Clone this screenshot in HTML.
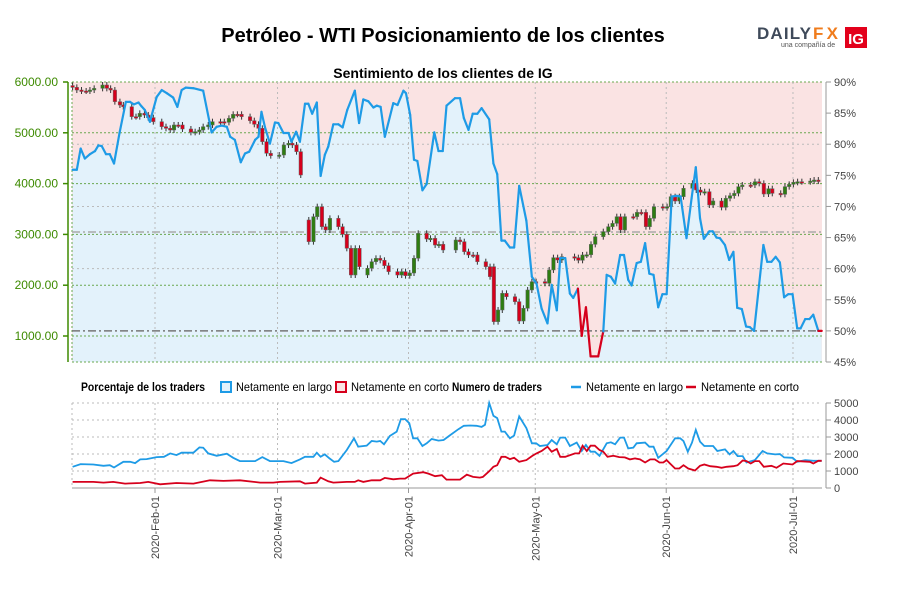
<!DOCTYPE html>
<html><head><meta charset="utf-8"><style>
body{margin:0;background:#fff;font-family:"Liberation Sans",sans-serif}
svg{display:block}
</style></head><body>
<svg id="c" width="900" height="600" xmlns="http://www.w3.org/2000/svg">
<text x="443" y="42" text-anchor="middle" font-size="20" font-weight="bold" fill="#000">Petróleo - WTI Posicionamiento de los clientes</text>
<g>
<text x="757" y="39" font-size="17" font-weight="bold" fill="#3f4a5a" textLength="54" lengthAdjust="spacing">DAILY</text>
<text x="813" y="39" font-size="17" font-weight="bold" fill="#f07c1c" textLength="25" lengthAdjust="spacing">FX</text>
<text x="781" y="47" font-size="7" fill="#555">una compañía de</text>
<rect x="845" y="27" width="22" height="21" fill="#e3001b"/>
<text x="856" y="44" text-anchor="middle" font-size="15" font-weight="bold" fill="#fff">IG</text>
</g>
<text x="443" y="78" text-anchor="middle" font-size="14" font-weight="bold" fill="#000">Sentimiento de los clientes de IG</text>
<g id="main"></g>
<g id="low"></g>
<g id="legend" font-size="12">
<text x="81" y="391" font-weight="bold" textLength="124" lengthAdjust="spacingAndGlyphs">Porcentaje de los traders</text>
<rect x="221" y="382" width="10" height="10" fill="#e3f2fb" stroke="#1e9be6" stroke-width="2"/>
<text x="236" y="391" textLength="96" lengthAdjust="spacingAndGlyphs">Netamente en largo</text>
<rect x="336" y="382" width="10" height="10" fill="#fae3e3" stroke="#d6001c" stroke-width="2"/>
<text x="351" y="391" textLength="98" lengthAdjust="spacingAndGlyphs">Netamente en corto</text>
<text x="452" y="391" font-weight="bold" textLength="90" lengthAdjust="spacingAndGlyphs">Numero de traders</text>
<line x1="571" y1="387" x2="581" y2="387" stroke="#1e9be6" stroke-width="2.5"/>
<text x="586" y="391" textLength="97" lengthAdjust="spacingAndGlyphs">Netamente en largo</text>
<line x1="686" y1="387" x2="696" y2="387" stroke="#d6001c" stroke-width="2.5"/>
<text x="701" y="391" textLength="98" lengthAdjust="spacingAndGlyphs">Netamente en corto</text>
</g>
</svg>
<script>
const sentDays=[0.5,1.5,2.4,3.4,4.6,5.8,6.6,7.4,8.4,9.3,10.3,11.6,13.1,14.1,15.0,16.1,16.8,17.6,18.8,20.4,21.6,22.8,24.3,25.3,26.3,27.3,29.1,31.4,33.4,34.6,35.8,37.0,37.8,38.9,40.3,41.3,42.3,43.7,44.5,45.2,46.0,47.2,48.4,49.2,50.4,51.6,52.3,53.4,54.3,55.5,56.3,57.2,58.3,59.2,60.2,61.0,62.2,63.4,64.4,65.5,67.3,68.3,69.3,70.5,71.7,72.5,73.4,74.4,76.4,77.4,78.8,79.4,80.4,81.3,82.1,83.3,84.3,86.1,87.1,88.1,89.0,91.0,92.2,93.1,94.2,95.2,96.3,97.3,99.1,100.1,101.0,102.0,102.8,104.0,105.0,106.2,107.9,109.2,110.3,111.5,112.9,113.9,115.1,115.9,117.1,118.2,119.0,120.1,121.0,122.0,123.1,124.9,126.1,126.9,127.9,128.9,130.1,131.0,132.0,132.8,134.0,135.0,136.0,137.0,138.0,139.1,140.1,141.1,142.3,143.5,144.4,145.8,147.0,148.0,149.0,149.9,151.2,152.0,152.9,153.7,154.9,155.9,156.9,157.8,158.9,159.9,160.8,161.8,164.0,164.9,165.9,166.9,167.9,168.9,169.9,170.9,172.0,172.8,173.9,174.9,175.8,177.0,177.8];
const sentLong=[75.9,75.9,79.3,77.7,78.4,78.9,79.8,79.7,78.4,78.4,76.9,81.8,86.8,86.8,86.4,86.7,86.1,85.5,83.6,87.6,88.7,88.2,87.5,86.0,88.7,89.1,89.0,88.6,81.9,82.8,83.0,82.8,81.2,80.7,77.1,78.5,78.8,80.7,81.2,85.2,82.8,80.1,83.5,83.4,81.8,81.8,80.4,82.0,80.4,86.5,86.5,84.9,86.7,74.9,78.3,79.6,83.2,83.2,82.7,85.5,88.6,83.4,87.2,86.9,85.9,86.2,86.0,81.2,86.6,86.3,88.6,88.2,84.7,77.5,77.3,72.6,73.6,81.9,78.9,78.9,86.2,87.4,87.4,84.2,82.3,84.9,84.9,85.8,84.0,76.9,75.2,64.5,64.5,63.4,63.4,73.3,67.7,58.7,57.6,53.6,51.2,57.4,53.3,61.7,61.7,56.0,55.3,56.8,49.2,53.8,45.9,45.9,49.9,59.0,58.7,57.6,62.2,62.2,58.2,57.3,60.9,61.1,64.1,59.2,59.0,53.8,55.9,55.9,71.6,71.7,71.6,64.9,71.3,76.3,68.1,64.8,66.0,66.0,65.0,64.9,63.8,61.4,62.7,53.7,53.5,50.7,50.6,50.0,63.8,61.1,61.1,61.9,61.0,55.4,55.9,55.9,50.4,50.4,51.9,51.9,52.6,50.0,50.0];
const candleDays=[0.5,1.5,2.6,3.7,4.6,5.6,7.6,8.6,9.5,10.5,11.7,12.5,14.5,15.5,16.4,17.5,18.4,19.6,21.6,22.6,23.6,24.5,25.5,26.5,28.5,29.5,30.5,31.4,32.6,33.6,35.5,36.4,37.5,38.5,39.5,40.5,42.5,43.5,44.5,45.4,46.4,47.4,49.4,50.5,51.6,52.5,53.5,54.5,56.4,57.5,58.4,59.5,60.4,61.4,63.4,64.4,65.4,66.4,67.4,68.4,70.3,71.3,72.3,73.3,74.3,75.3,77.4,78.4,79.3,80.3,81.3,82.3,84.3,85.2,86.3,87.2,88.2,91.2,92.2,93.2,94.2,95.3,96.3,98.3,99.3,100.2,101.2,102.2,103.2,105.2,106.2,107.2,108.2,109.2,110.2,112.3,113.3,114.3,115.3,116.3,119.3,120.2,121.2,122.2,123.2,124.2,126.1,127.3,128.3,129.3,130.2,131.2,133.2,134.1,135.1,136.2,137.1,138.1,140.2,141.2,142.1,143.1,144.1,145.1,147.2,148.1,149.1,150.1,151.2,152.1,154.1,155.1,156.1,157.1,158.1,159.0,161.0,162.0,163.0,164.1,165.2,166.1,168.1,169.1,170.1,171.1,172.1,173.1,175.1,176.0,177.0];
const candleClose=[5895,5842,5823,5823,5842,5875,5941,5875,5842,5613,5547,5514,5318,5318,5383,5350,5298,5219,5121,5088,5055,5154,5154,5075,5009,5022,5055,5121,5154,5219,5219,5206,5285,5364,5364,5318,5239,5167,5088,4826,4596,4550,4563,4760,4793,4760,4629,4169,2857,3349,3546,3152,3087,3316,3152,3001,2726,2201,2726,2365,2333,2463,2529,2490,2385,2267,2200,2267,2188,2240,2530,3021,2910,2923,2791,2805,2693,2890,2857,2660,2595,2595,2463,2365,2168,1282,1512,1840,1774,1676,1295,1545,1906,2070,2070,2037,2300,2542,2496,2562,2542,2490,2595,2600,2804,2955,3054,3152,3217,3349,3087,3350,3350,3434,3434,3152,3316,3546,3526,3546,3743,3657,3743,3907,4005,3874,3828,3841,3579,3658,3533,3710,3762,3808,3940,3972,3972,4038,4005,3795,3900,3808,3789,3940,3985,4025,4038,4038,4050,4070,4050];
const gapOpenDays=[0.5,56.4,70.3,100.2];
const gapOpens=[5930,3284,2201,2365];
const numLongDays=[0.5,2.4,5.4,7.8,9.3,10.3,12.5,14.1,15.3,16.5,18.0,20.4,22.1,23.6,25.1,26.3,29.1,30.5,31.4,32.6,34.6,37.0,38.5,40.1,43.7,45.4,47.2,50.4,52.3,54.3,55.5,57.5,58.3,59.2,60.2,61.3,62.4,63.4,65.4,67.1,68.1,70.1,71.3,72.5,73.3,74.2,75.6,77.2,78.2,79.2,80.2,81.1,82.1,83.3,84.3,85.5,87.1,88.3,89.7,91.8,93.1,94.6,96.1,97.3,98.1,99.1,100.1,101.0,102.0,102.8,104.0,105.0,106.2,107.9,109.2,110.2,111.1,112.9,113.9,115.1,115.9,117.1,118.2,119.8,121.0,122.0,123.1,124.1,125.2,126.9,127.9,128.9,130.1,131.0,132.0,133.2,134.0,136.0,137.0,138.0,139.1,140.1,141.1,143.1,144.3,145.1,146.1,147.1,148.0,149.0,150.0,152.1,153.1,154.9,156.0,156.9,157.9,159.1,160.0,162.0,163.8,164.9,166.8,167.9,168.9,170.9,172.0,173.9,175.8,177.8];
const numLong=[1245,1403,1383,1304,1344,1205,1541,1541,1462,1680,1700,1818,1838,2035,1937,2075,2075,2391,2371,2035,1897,2016,1778,1581,1581,1818,1581,1581,1462,1680,1838,1838,2075,1838,1976,1739,1541,1581,2233,2924,2430,2490,2766,2727,2766,2569,3063,3320,4051,4051,3814,2924,2924,2470,2628,2885,2786,2826,3083,3458,3656,3675,3656,3596,3715,4999,4248,4110,3320,3320,2924,3083,4209,3517,2628,2628,2470,2529,2826,2569,2964,2964,2470,2668,2174,2529,2134,2134,1897,2628,2687,2569,2964,2964,2332,2371,2628,2668,2430,2430,1778,1976,2174,2924,2924,2766,2134,2668,3419,2727,2470,2470,2174,2272,1976,2174,1877,1877,1502,1640,2174,2035,1976,1996,1798,1778,1541,1640,1600,1600];
const numShortDays=[0.5,5.4,7.8,10.1,12.9,16.5,18.4,21.2,25.1,29.1,33.0,36.2,40.1,44.9,48.0,49.6,54.3,55.5,58.3,59.2,61.0,62.2,65.4,67.3,68.1,69.3,71.3,73.3,74.4,76.4,78.0,79.2,81.1,83.5,84.7,86.3,87.9,89.0,92.2,93.8,95.3,96.9,97.6,99.1,100.1,101.0,102.0,102.9,104.0,105.0,106.2,107.9,109.2,110.3,111.5,112.9,113.9,115.1,115.9,117.1,119.4,120.4,121.2,122.2,123.1,124.1,125.2,126.1,127.1,128.5,129.9,131.2,132.4,133.6,134.8,136.0,137.2,138.3,139.4,140.3,141.1,141.9,143.1,144.1,145.1,146.2,147.8,149.0,150.0,151.4,152.9,154.1,155.3,156.9,157.9,159.1,160.0,161.0,162.0,163.0,164.1,165.9,167.1,168.7,170.9,172.0,175.0,175.8,177.0,177.8];
const numShort=[356,356,316,356,257,296,356,217,296,257,454,415,454,316,316,356,395,257,316,613,395,316,356,356,454,356,454,454,593,514,553,553,850,929,850,692,751,494,494,790,652,613,652,988,1245,1344,1838,1838,1700,1778,1541,1640,1877,2035,2174,2430,2134,2292,1838,1838,2035,2035,2490,2174,2490,2490,2233,2134,1838,1897,1818,1798,1680,1739,1680,1502,1680,1680,1502,1502,1640,1442,1146,1146,1344,1146,1028,1304,1383,1284,1245,1186,1245,1284,1344,1620,1581,1442,1581,1581,1245,1304,1186,1442,1383,1581,1541,1442,1600,1600];
const monthDays=[20,49,80,110,141,171];
const monthLabels=["2020-Feb-01","2020-Mar-01","2020-Apr-01","2020-May-01","2020-Jun-01","2020-Jul-01"];
const priceTicks=[6000,5000,4000,3000,2000,1000];
const pctTicks=[90,85,80,75,70,65,60,55,50,45];
const numTicks=[5000,4000,3000,2000,1000,0];

const NS="http://www.w3.org/2000/svg";
const X0=72,X1=822,T=82,B=362,LT=403,LB=488;
const xd=d=>70.5+4.225*d;
const yP=p=>T+(90-p)*6.222;
const yPr=v=>T+(6000-v)*0.0508;
const yN=v=>LB-v*0.017;
function mk(parent,tag,attrs){const e=document.createElementNS(NS,tag);for(const k in attrs)e.setAttribute(k,attrs[k]);parent.appendChild(e);return e;}
const main=document.getElementById('main'),low=document.getElementById('low');

const bg=mk(main,'rect',{x:X0,y:T,width:X1-X0,height:B-T,fill:'#fae3e3'});


let pts=sentDays.map((d,i)=>xd(d).toFixed(1)+','+yP(sentLong[i]).toFixed(1));
const area=mk(main,'polygon',{points:xd(sentDays[0])+','+B+' '+pts.join(' ')+' '+xd(sentDays[sentDays.length-1])+','+B,fill:'#e3f2fb'});


[80,70,60].forEach(p=>mk(main,'line',{x1:X0,x2:X1,y1:yP(p),y2:yP(p),stroke:'#bbb','stroke-dasharray':'2,3'}));
priceTicks.forEach(v=>mk(main,'line',{x1:X0,x2:X1,y1:yPr(v),y2:yPr(v),stroke:'#6aa84f','stroke-dasharray':'2,2'}));
mk(main,'line',{x1:X0,x2:X1,y1:B,y2:B,stroke:'#6aa84f','stroke-dasharray':'2,2'});
mk(main,'line',{x1:X0,x2:X0,y1:T,y2:B,stroke:'#6aa84f','stroke-dasharray':'2,2'});
monthDays.forEach(d=>mk(main,'line',{x1:xd(d),x2:xd(d),y1:T,y2:B,stroke:'#bbb','stroke-dasharray':'2,3'}));
mk(main,'line',{x1:X0,x2:X1,y1:yP(65.9),y2:yP(65.9),stroke:'#aaa','stroke-width':1.5,'stroke-dasharray':'8,3,2,3'});
mk(main,'line',{x1:X0,x2:X1,y1:yP(50),y2:yP(50),stroke:'#777','stroke-width':1.5,'stroke-dasharray':'8,3,2,3'});
candleDays.forEach((d,i)=>{
  const gi=gapOpenDays.indexOf(d);
  const o=gi>=0?gapOpens[gi]:(i>0?candleClose[i-1]:candleClose[i]);
  const c=candleClose[i];
  const up=c>o;const x=xd(d);
  const y1=yPr(Math.max(o,c)),y2=yPr(Math.min(o,c));
  const g=mk(main,'g',{});
  
  
  mk(g,'line',{x1:x,x2:x,y1:y1-3,y2:y2+3,stroke:'#333','stroke-width':1});
  mk(g,'rect',{x:x-1.75,y:y1,width:3.5,height:Math.max(1.5,y2-y1),fill:up?'#2e7d12':'#d6001c',stroke:'#666','stroke-width':0.5});
});
for(let i=1;i<sentDays.length;i++){
  const a=sentLong[i-1],b=sentLong[i];
  const red=(a<=50&&b<=50)||Math.min(a,b)<49.9;
  const s=mk(main,'line',{x1:xd(sentDays[i-1]),y1:yP(a),x2:xd(sentDays[i]),y2:yP(b),stroke:red?'#d6001c':'#1e9be6','stroke-width':2.2,'stroke-linecap':'round'});
  
  
}
mk(main,'line',{x1:68,x2:68,y1:T,y2:B,stroke:'#3d8a00','stroke-width':1.5});
priceTicks.forEach(v=>{
  mk(main,'line',{x1:63,x2:68,y1:yPr(v),y2:yPr(v),stroke:'#3d8a00','stroke-width':1.5});
  const t=mk(main,'text',{x:58,y:yPr(v)+4,'text-anchor':'end','font-size':12,fill:'#3d8a00'});
  t.textContent=v.toFixed(2);
  
  
});
mk(main,'line',{x1:826,x2:826,y1:T,y2:B,stroke:'#999','stroke-width':1});
pctTicks.forEach(p=>{
  mk(main,'line',{x1:826,x2:831,y1:yP(p),y2:yP(p),stroke:'#999'});
  const t=mk(main,'text',{x:834,y:yP(p)+4,'font-size':11,fill:'#444'});
  t.textContent=p+'%';
  
  
});
numTicks.forEach(v=>mk(low,'line',{x1:X0,x2:X1,y1:yN(v),y2:yN(v),stroke:'#bbb','stroke-dasharray':'2,3'}));
mk(low,'line',{x1:X0,x2:X0,y1:LT,y2:LB,stroke:'#bbb','stroke-dasharray':'2,3'});
mk(low,'line',{x1:X0,x2:X1,y1:LB,y2:LB,stroke:'#999'});
monthDays.forEach((d,i)=>{
  mk(low,'line',{x1:xd(d),x2:xd(d),y1:LT,y2:LB,stroke:'#bbb','stroke-dasharray':'2,3'});
  mk(low,'line',{x1:xd(d),x2:xd(d),y1:LB,y2:LB+5,stroke:'#999'});
  const t=mk(low,'text',{x:0,y:0,'font-size':11,fill:'#444','text-anchor':'end',transform:`translate(${xd(d)+4},${LB+8}) rotate(-90)`});
  t.textContent=monthLabels[i];
  
  
});
mk(low,'line',{x1:826,x2:826,y1:LT,y2:LB,stroke:'#999'});
numTicks.forEach(v=>{
  mk(low,'line',{x1:826,x2:831,y1:yN(v),y2:yN(v),stroke:'#999'});
  const t=mk(low,'text',{x:834,y:yN(v)+4,'font-size':11,fill:'#444'});
  t.textContent=v;
  
  
});
const pl=mk(low,'polyline',{points:numLongDays.map((d,i)=>xd(d).toFixed(1)+','+yN(numLong[i]).toFixed(1)).join(' '),fill:'none',stroke:'#1e9be6','stroke-width':1.8});


const ps=mk(low,'polyline',{points:numShortDays.map((d,i)=>xd(d).toFixed(1)+','+yN(numShort[i]).toFixed(1)).join(' '),fill:'none',stroke:'#d6001c','stroke-width':1.8});


</script>
</body></html>
